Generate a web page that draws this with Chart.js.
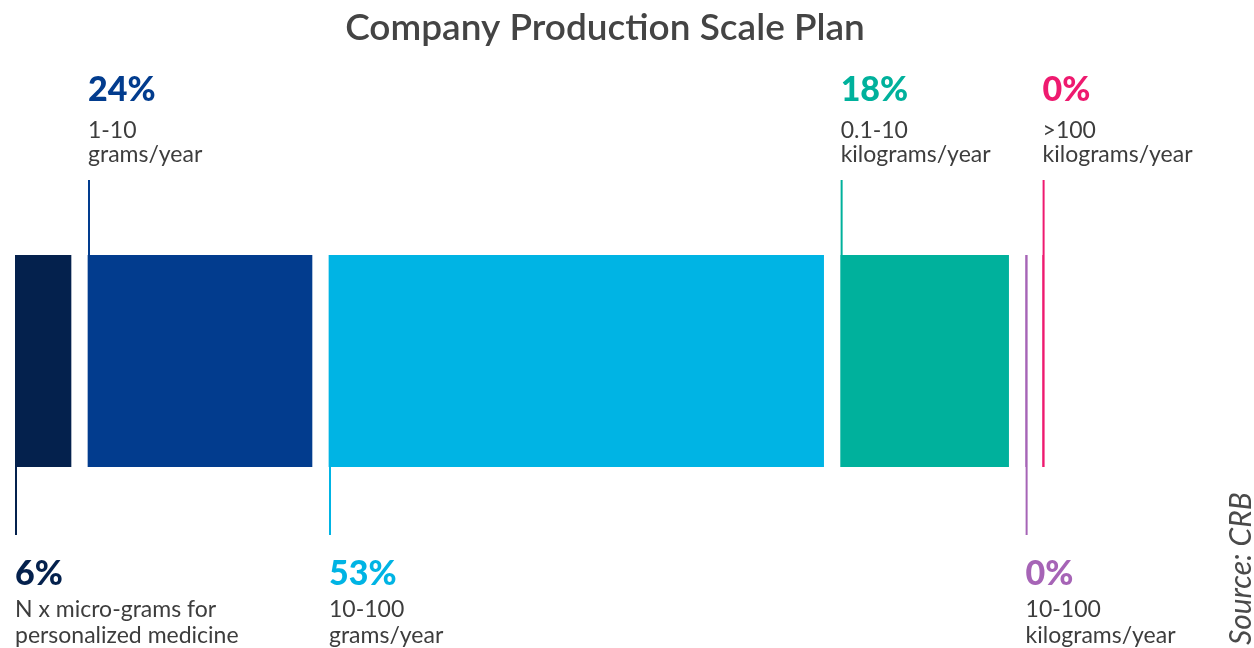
<!DOCTYPE html>
<html>
<head>
<meta charset="utf-8">
<script src="https://cdn.jsdelivr.net/npm/chart.js@4"></script>
<style>
  html, body { margin: 0; padding: 0; background: #fff; }
  #wrap { width: 1254px; height: 648px; position: relative; }
</style>
</head>
<body>
<div id="wrap"><canvas id="mainChart" width="1254" height="648"></canvas></div>
<script>
// Data
const categories = [
    ['N x micro-grams for', 'personalized medicine'],
    ['1-10', 'grams/year'],
    ['10-100', 'grams/year'],
    ['0.1-10', 'kilograms/year'],
    ['10-100', 'kilograms/year'],
    ['>100', 'kilograms/year']
];
const shares = [6, 24, 53, 18, 0, 0];
const colors = ['#04214d', '#023c8e', '#00b4e4', '#00b19c', '#a664b6', '#ee1a6f'];
const sides = ['below', 'above', 'below', 'above', 'below', 'above'];
const gapUnits = 1.82; // white space between segments, in % units

// floating ranges, one after another with a gap
let cursor = 0;
const ranges = shares.map(v => {
    const r = [cursor, cursor + v];
    cursor += v + gapUnits;
    return r;
});

const textColor = '#3d3d3d';

// title, leader lines + labels
const labelPlugin = {
    id: 'segmentLabels',
    afterDatasetsDraw(chart) {
        const c = chart.ctx;
        c.save();

        c.fillStyle = '#444444';
        c.font = '600 37px Lato';
        c.textAlign = 'center';
        c.textBaseline = 'alphabetic';
        c.fillText('Company Production Scale Plan', 605, 40);

        chart.data.datasets.forEach((ds, i) => {
            const el = chart.getDatasetMeta(i).data[0];
            const p = el.getProps(['x', 'y', 'base', 'height'], true);
            const top = p.y - p.height / 2;
            const bottom = p.y + p.height / 2;
            const x0 = Math.min(p.base, p.x);
            const zero = shares[i] === 0;

            c.strokeStyle = colors[i];
            c.lineWidth = 2;
            c.beginPath();
            if (sides[i] === 'above') {
                c.moveTo(x0 + 1, zero ? bottom : top);
                c.lineTo(x0 + 1, top - 75);
            } else {
                c.moveTo(x0 + 1, zero ? top : bottom);
                c.lineTo(x0 + 1, bottom + 68);
            }
            c.stroke();

            const ys = sides[i] === 'above'
                ? [top - 154, top - 117, top - 93]
                : [bottom + 118, bottom + 150, bottom + 176];

            c.textAlign = 'left';
            c.fillStyle = colors[i];
            c.font = '900 34px Lato';
            c.fillText(shares[i] + '%', x0, ys[0]);

            c.fillStyle = textColor;
            c.font = '23px Lato';
            c.fillText(categories[i][0], x0, ys[1]);
            c.fillText(categories[i][1], x0, ys[2]);
        });

        // source note
        c.translate(1251, 645);
        c.rotate(-Math.PI / 2);
        c.fillStyle = '#4a4a4a';
        c.font = 'italic 30px Lato';
        c.textAlign = 'left';
        c.fillText('Source: CRB', 0, 0);
        c.restore();
    }
};

const ctx = document.getElementById('mainChart');
new Chart(ctx, {
    type: 'bar',
    data: {
        labels: ['Scale'],
        datasets: ranges.map((r, i) => ({
            label: categories[i].join(' '),
            data: [r],
            backgroundColor: colors[i],
            borderWidth: 0
        }))
    },
    options: {
        indexAxis: 'y',
        responsive: false,
        animation: false,
        datasets: {
            bar: { grouped: false, barPercentage: 1, categoryPercentage: 1 }
        },
        layout: {
            padding: { left: 15, right: 119, top: 255, bottom: 181 }
        },
        plugins: {
            legend: { display: false },
            tooltip: { enabled: false },
            title: { display: false }
        },
        scales: {
            x: { display: false, min: 0, max: 120 },
            y: { display: false }
        }
    },
    plugins: [labelPlugin]
});
</script>
</body>
</html>
